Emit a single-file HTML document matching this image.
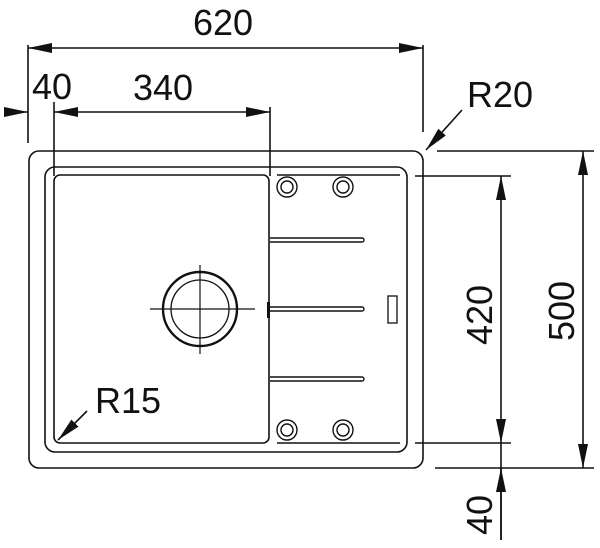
<!DOCTYPE html>
<html><head><meta charset="utf-8"><style>html,body{margin:0;padding:0;background:#fff}svg{display:block}</style></head>
<body>
<svg width="600" height="548" viewBox="0 0 600 548" xmlns="http://www.w3.org/2000/svg" font-family="Liberation Sans, sans-serif" font-size="36" fill="none" stroke="#111" stroke-width="1.6">
<defs>
<marker id="a" viewBox="0 0 10 10" refX="10" refY="5" markerWidth="9" markerHeight="9" markerUnits="userSpaceOnUse" orient="auto-start-reverse"><path d="M0,0 L10,5 L0,10 Z" fill="#111" stroke="none" transform="scale(1)"/></marker>
<marker id="b" viewBox="0 0 24 10" refX="24" refY="5" markerWidth="24" markerHeight="10" markerUnits="userSpaceOnUse" orient="auto-start-reverse"><path d="M0,0 L24,5 L0,10 Z" fill="#111" stroke="none"/></marker>
</defs>
<!-- top dims -->
<line x1="28" y1="45" x2="28" y2="143"/>
<line x1="423" y1="45" x2="423" y2="132"/>
<line x1="28" y1="48" x2="423" y2="48" marker-start="url(#b)" marker-end="url(#b)"/>
<line x1="4" y1="112" x2="28" y2="112" marker-end="url(#b)"/>
<line x1="54" y1="102" x2="54" y2="176"/>
<line x1="270" y1="107" x2="270" y2="176"/>
<line x1="54" y1="112" x2="270" y2="112" marker-start="url(#b)" marker-end="url(#b)"/>
<g fill="#111" stroke="none">
<text x="223" y="35" text-anchor="middle">620</text>
<text x="52" y="99" text-anchor="middle">40</text>
<text x="163" y="100" text-anchor="middle">340</text>
<text x="500" y="107" text-anchor="middle">R20</text>
<text x="128" y="413" text-anchor="middle">R15</text>
<text transform="translate(492,315) rotate(-90)" text-anchor="middle">420</text>
<text transform="translate(574,311) rotate(-90)" text-anchor="middle">500</text>
<text transform="translate(492,515) rotate(-90)" text-anchor="middle">40</text>
</g>
<!-- leaders -->
<line x1="462" y1="110" x2="426" y2="150" marker-end="url(#b)"/>
<line x1="87" y1="411" x2="58" y2="440" marker-end="url(#b)"/>
<!-- sink -->
<rect x="29" y="151" width="394" height="317" rx="10"/>
<rect x="45" y="167" width="362" height="285" rx="10"/>
<rect x="54" y="175" width="215" height="268" rx="6"/>
<line x1="277" y1="175" x2="400" y2="175"/>
<line x1="277" y1="443" x2="400" y2="443"/>
<!-- taps -->
<g stroke-width="1.4">
<circle cx="287" cy="187" r="10"/><circle cx="287" cy="187" r="6"/>
<circle cx="343" cy="187" r="10"/><circle cx="343" cy="187" r="6"/>
<circle cx="287" cy="430" r="10"/><circle cx="287" cy="430" r="6"/>
<circle cx="343" cy="430" r="10"/><circle cx="343" cy="430" r="6"/>
</g>
<!-- ribs -->
<g stroke-width="1.4">
<path d="M270,238 H362 a2,2 0 0 1 0,4 H270"/>
<path d="M270,307 H362 a2,2 0 0 1 0,4 H270"/>
<path d="M270,377 H362 a2,2 0 0 1 0,4 H270"/>
</g>
<rect x="267" y="302" width="3" height="16" fill="#111" stroke="none"/>
<rect x="388" y="296" width="9" height="27" stroke-width="1.3"/>
<!-- drain -->
<circle cx="200" cy="309" r="37" stroke-width="2.4"/>
<circle cx="200" cy="309" r="29" stroke-width="1.3"/>
<line x1="150" y1="309" x2="255" y2="309" stroke-width="1.2"/>
<line x1="200" y1="265" x2="200" y2="354" stroke-width="1.2"/>
<!-- right dims -->
<line x1="437" y1="151" x2="594" y2="151"/>
<line x1="415" y1="176" x2="511" y2="176"/>
<line x1="415" y1="443" x2="511" y2="443"/>
<line x1="435" y1="468" x2="594" y2="468"/>
<line x1="501" y1="176" x2="501" y2="443" marker-start="url(#b)" marker-end="url(#b)"/>
<line x1="501" y1="443" x2="501" y2="540"/>
<line x1="501" y1="540" x2="501" y2="468" marker-end="url(#b)"/>
<line x1="583" y1="151" x2="583" y2="468" marker-start="url(#b)" marker-end="url(#b)"/>
</svg>
</body></html>
